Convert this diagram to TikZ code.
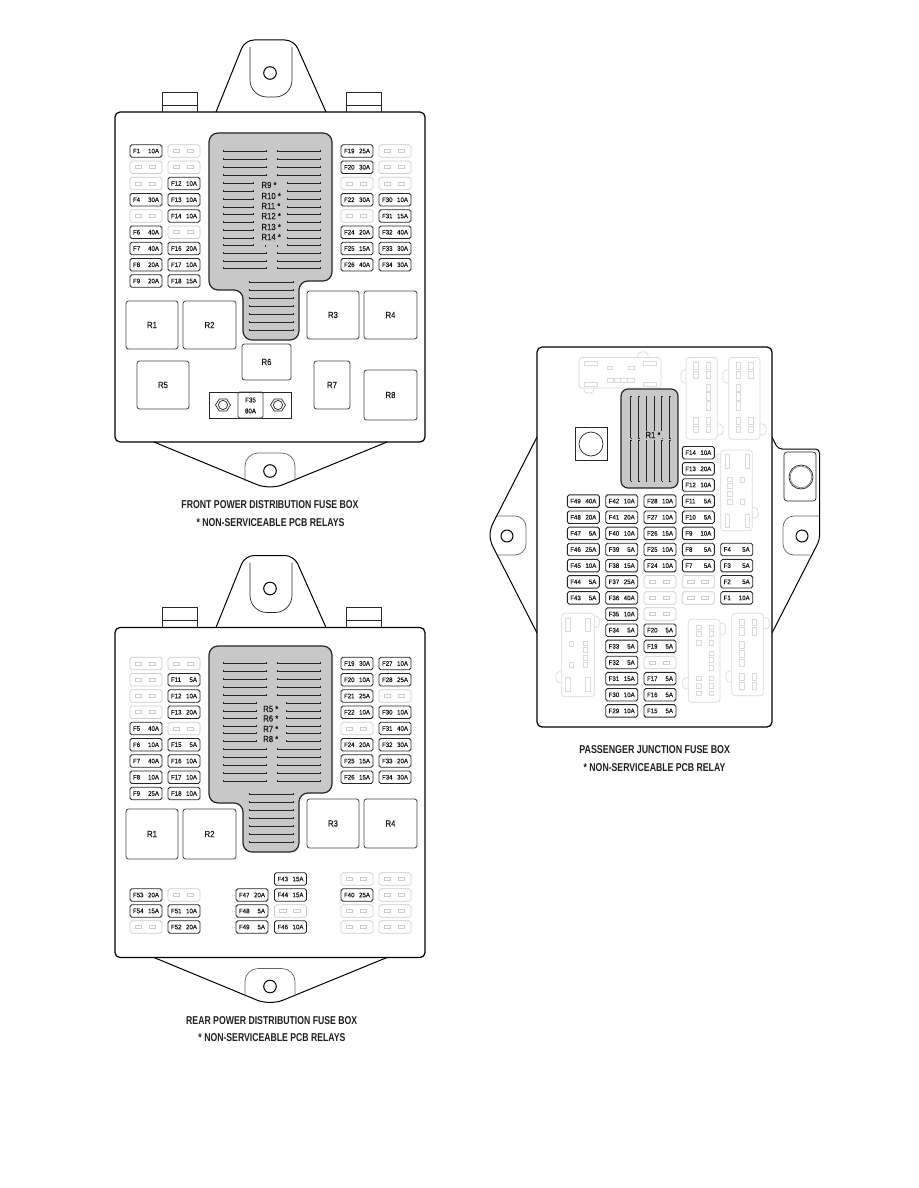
\documentclass[tikz,border=0pt]{standalone}
\usepackage{fontspec}
\usepackage{graphicx}
\setmainfont{Liberation Sans}
\newfontfamily\fusefont[FakeStretch=0.94,FakeBold=0.35]{Liberation Sans}
\newfontfamily\relfont[FakeStretch=0.88,FakeBold=0.45]{Liberation Sans}
\definecolor{boxgray}{HTML}{C8C8C8}
\definecolor{ghost}{HTML}{DADADA}
\definecolor{blankline}{HTML}{CCCCCC}
\definecolor{inkline}{HTML}{262626}
\tikzset{
  outerline/.style={draw=black,line width=1.25pt},
  thinline/.style={draw=inkline,line width=.7pt},
  fusebox/.style={draw=inkline,line width=.9pt,rounded corners=1.8pt,minimum width=32pt,minimum height=12.5pt,inner sep=0pt,font=\fusefont\fontsize{6.5}{6.5}\selectfont,text=black!90},
  blankbox/.style={draw=blankline,line width=.7pt,rounded corners=1.8pt,minimum width=32pt,minimum height=12.5pt,inner sep=0pt},
  slotbox/.style={draw=blankline,line width=.55pt},
  relaybox/.style={draw=inkline!85,line width=.85pt,rounded corners=2.5pt},
  relaytext/.style={font=\relfont\fontsize{8.8}{8.8}\selectfont,text=black!90,inner sep=0pt},
  graybody/.style={draw=inkline,fill=boxgray,line width=1.2pt,rounded corners=9pt},
  gridline/.style={draw=black!85,line width=.55pt},
  ghostline/.style={draw=ghost,line width=.7pt},
  capt/.style={inner sep=0pt,text=black!88},
}
\newcommand{\hgrid}[3]{\draw[gridline] (#1,#3) -- (#2,#3) (#1,#3-.8) -- (#1,#3+.8) (#2,#3-.8) -- (#2,#3+.8);}
\newcommand{\vgrid}[3]{\draw[gridline] (#1,#2) -- (#1,#3) (#1,#2) -- (#1+1.3,#2) (#1,#3) -- (#1+1.3,#3);}
\newcommand{\fcol}[5]{%
  \foreach \a/\b [count=\i from 0] in {#5}{%
    \pgfmathsetmacro\yy{#3+\i*#4}%
    \edef\tmpa{\a}\def\dashm{-}%
    \ifx\tmpa\dashm
      \node[blankbox] (#1r\i) at (#2+16,\yy) {};
      \draw[slotbox] (#2+16-11,\yy-1.5) rectangle (#2+16-4.5,\yy+1.5);
      \draw[slotbox] (#2+16+3,\yy-1.5) rectangle (#2+16+9.5,\yy+1.5);
    \else
      \node[fusebox] (#1r\i) at (#2+16,\yy) {\makebox[26pt]{\a\hfill\b}};
    \fi
  }%
}
\newcommand{\relay}[6]{%
  \draw[relaybox] (#2,#3) rectangle (#4,#5);
  \node[relaytext] (#1) at ({(#2+#4)/2},{(#3+#5)/2}) {#6};
}
\newcommand{\shelltop}{%
  \draw[outerline,fill=white,rounded corners=5pt] (115,112) rectangle (425,442);
  \draw[outerline,line width=1pt,rounded corners=9pt] (216,112) -- (245,40) -- (294,40) -- (326,112);
  \draw[thinline,rounded corners=17pt] (250,47) -- (250,97) -- (292,97) -- (292,47);
  \draw[black,line width=1pt] (270,73) circle (6.3);
  \draw[thinline,line width=.9pt] (162,112) -- (162,92) -- (197,92) -- (197,112) (162,105) -- (197,105);
  \draw[thinline,line width=.9pt] (346,112) -- (346,92) -- (381,92) -- (381,112) (346,105) -- (381,105);
  \draw[outerline,line width=1pt,rounded corners=14pt] (154,442) -- (270,490) -- (387,442);
  \draw[thinline,draw=black!60,rounded corners=13pt] (245,481) -- (245,453) -- (295,453) -- (295,481);
  \draw[black,line width=1pt] (270,471) circle (6.3);
}
\newcommand{\graybody}[4]{%
  \draw[graybody] (209,#1) -- (332,#1) -- (332,#3) -- (299,#3) -- (299,#4) -- (243,#4) -- (243,#2) -- (209,#2) -- cycle;
}
\newcommand{\ghostframe}[4]{\draw[ghostline,rounded corners=3pt] (#1,#2) rectangle (#3,#4);}
\newcommand{\ghosttab}[4]{\draw[ghostline,rounded corners=3.5pt] (#1,#2) -- (#3,#2) -- (#3,#4) -- (#1,#4);}
\newcommand{\ghostslot}[4]{\draw[ghostline,line width=.55pt] (#1,#2) rectangle (#3,#4);}
\newcommand{\capline}[5]{\node[capt] (#1) at (#2,#3) {\resizebox{#4pt}{8.2pt}{\bfseries\rule{0pt}{.72em}#5}};}
\begin{document}
\begin{tikzpicture}[x=1pt,y=-1pt]
\useasboundingbox (0,0) rectangle (918,1188);
\fill[white] (0,0) rectangle (918,1188);

%% ---------- FRONT ----------
\shelltop
\graybody{133}{290}{281}{340}
\foreach \y in {151,159,167,175,261,253,268}{\hgrid{223}{266}{\y}\hgrid{277}{320}{\y}}
\foreach \y in {183,191,199,207,214,222,230,238,245}{\hgrid{223}{253}{\y}\hgrid{287}{320}{\y}}
\draw[gridline] (265.5,245) -- (265.5,246.5) (277.5,245) -- (277.5,246.5);
\foreach \y in {282,290,298,306,314,322,330}{\hgrid{249}{293}{\y}}
\foreach \t/\y in {R9/185,R10/196,R11/206,R12/216,R13/227,R14/237}{
  \node[relaytext,anchor=west] (front\t) at (261.3,\y) {\t\ *};
}
\fcol{fa}{130}{151}{16.25}{F1/10A,-/-,-/-,F4/30A,-/-,F6/40A,F7/40A,F8/20A,F9/20A}
\fcol{fb}{168}{151}{16.25}{-/-,-/-,F12/10A,F13/10A,F14/10A,-/-,F16/20A,F17/10A,F18/15A}
\fcol{fc}{341}{151}{16.25}{F19/25A,F20/30A,-/-,F22/30A,-/-,F24/20A,F25/15A,F26/40A}
\fcol{fd}{379}{151}{16.25}{-/-,-/-,-/-,F30/10A,F31/15A,F32/40A,F33/30A,F34/30A}
\relay{fR1}{126}{301}{178}{349}{R1}
\relay{fR2}{183}{301}{236}{349}{R2}
\relay{fR3}{307}{291}{359}{339}{R3}
\relay{fR4}{364}{291}{417}{339}{R4}
\relay{fR5}{137}{361}{189}{409}{R5}
\relay{fR6}{242}{344}{291}{380}{R6}
\relay{fR7}{314}{361}{350}{409}{R7}
\relay{fR8}{364}{370}{417}{420}{R8}
\draw[thinline,line width=.8pt] (209,392) rectangle (291,418);
\draw[relaybox,rounded corners=1.5pt] (238,392) rectangle (263,418);
\node[relaytext,font=\relfont\fontsize{7}{7}\selectfont] (fF35a) at (250.5,400) {F35};
\node[relaytext,font=\relfont\fontsize{7}{7}\selectfont] (fF35b) at (250.5,411) {80A};
\foreach \cx in {223,278}{
  \draw[thinline] (\cx-7.5,405) -- (\cx-3.7,399) -- (\cx+3.7,399) -- (\cx+7.5,405) -- (\cx+3.7,411) -- (\cx-3.7,411) -- cycle;
  \draw[thinline] (\cx,405) circle (4.6);
}
\capline{fcap1}{270}{504}{177}{FRONT POWER DISTRIBUTION FUSE BOX}
\capline{fcap2}{270.5}{522}{148}{* NON-SERVICEABLE PCB RELAYS}

%% ---------- REAR ----------
\begin{scope}[shift={(0,515.5)}]
\shelltop
\end{scope}
\graybody{646}{803}{793}{852}
\foreach \y in {663,671,679,687,695,749,757,765,773,781}{\hgrid{223}{266}{\y}\hgrid{277}{320}{\y}}
\foreach \y in {703,711,718,726,733,741}{\hgrid{223}{256}{\y}\hgrid{286}{320}{\y}}
\foreach \y in {794,802,810,818,826,834,842}{\hgrid{249}{293}{\y}}
\foreach \t/\y in {R5/709,R6/718.5,R7/729,R8/739}{
  \node[relaytext,anchor=west] (rear\t) at (263,\y) {\t\ *};
}
\fcol{ra}{130}{663.5}{16.25}{-/-,-/-,-/-,-/-,F5/40A,F6/10A,F7/40A,F8/10A,F9/25A}
\fcol{rb}{168}{663.5}{16.25}{-/-,F11/5A,F12/10A,F13/20A,-/-,F15/5A,F16/10A,F17/10A,F18/10A}
\fcol{rc}{341}{663.5}{16.25}{F19/30A,F20/10A,F21/25A,F22/10A,-/-,F24/20A,F25/15A,F26/15A}
\fcol{rd}{379}{663.5}{16.25}{F27/10A,F28/25A,-/-,F30/10A,F31/40A,F32/30A,F33/20A,F34/30A}
\relay{rR1}{126}{809}{178}{859}{R1}
\relay{rR2}{183}{809}{236}{859}{R2}
\relay{rR3}{307}{799}{359}{848}{R3}
\relay{rR4}{364}{799}{417}{848}{R4}
\fcol{re}{130}{895}{16}{F53/20A,F54/15A,-/-}
\fcol{rf}{168}{895}{16}{-/-,F51/10A,F52/20A}
\fcol{rg}{236}{895}{16}{F47/20A,F48/5A,F49/5A}
\fcol{rh}{274.5}{879}{16}{F43/15A,F44/15A,-/-,F46/10A}
\fcol{ri}{341}{879}{16}{-/-,F40/25A,-/-,-/-}
\fcol{rj}{379}{879}{16}{-/-,-/-,-/-,-/-}
\capline{rcap1}{271.7}{1020}{171}{REAR POWER DISTRIBUTION FUSE BOX}
\capline{rcap2}{272}{1037}{147}{* NON-SERVICEABLE PCB RELAYS}

%% ---------- PASSENGER ----------
\draw[outerline,line width=1pt,rounded corners=6pt] (537,437) -- (490,529) -- (490,541) -- (537,633);
\draw[outerline,line width=1pt,rounded corners=4pt] (772,437) -- (778,449) -- (819.5,449) -- (819.5,540) -- (772,633);
\draw[outerline,fill=white,rounded corners=5pt] (537,347) rectangle (772,727);
% wing inner details
\draw[thinline,draw=black!60,rounded corners=11pt] (497,516) -- (526,516) -- (526,555) -- (498,555);
\draw[black,line width=1pt] (507,536) circle (6);
\draw[thinline,draw=black!60,rounded corners=11pt] (819,516) -- (783,516) -- (783,555) -- (810,555);
\draw[black,line width=1pt] (802,536) circle (6);
\draw[thinline,rounded corners=3pt] (784,452) rectangle (816,501);
\draw[thinline] (801,477) circle (12);
\draw[thinline,draw=black!50] (801,477) circle (10.8);
% ghost connector top
\ghostframe{579}{357.5}{661}{388}
\draw[ghostline,rounded corners=3.5pt] (638,357.5) -- (638,352) -- (648,352) -- (648,357.5);
\draw[ghostline,rounded corners=3.5pt] (584,388) -- (584,393) -- (594,393) -- (594,388);
\foreach \a/\b in {584/361,643/361,584/382,643/382}{\ghostslot{\a}{\b}{\a+13.5}{\b+4}}
\ghostslot{607}{366}{612}{369.5}
\ghostslot{628}{366}{634}{369.5}
\foreach \a in {607,613.8,620.6,627.4}{\ghostslot{\a}{378}{\a+6.5}{382}}
% ghost connector 2
\ghostframe{686}{357.5}{717.3}{439.3}
\ghosttab{686}{370}{681}{383}
\ghosttab{717.3}{424}{723}{435}
\foreach \a in {693.7,706}{\foreach \b/\c in {362.7/369,371/378,417.7/424,426/432.3}{\ghostslot{\a}{\b}{\a+4.5}{\c}}}
\foreach \b/\c in {384.3/391.7,392.7/400,401.7/410.7}{\ghostslot{706}{\b}{710.5}{\c}}
% ghost connector 3
\ghostframe{728.7}{357.5}{760}{439.3}
\ghosttab{728.7}{370}{723}{383}
\ghosttab{760}{424}{766}{435}
\foreach \a in {736,748.3}{\foreach \b/\c in {362.7/369,371/378,417.7/424,426/432.3}{\ghostslot{\a}{\b}{\a+4.5}{\c}}}
\foreach \b/\c in {384.3/391.7,392.7/400,401.7/410.7}{\ghostslot{736}{\b}{740.5}{\c}}
% ghost connector 4
\ghostframe{720.7}{450}{752.3}{530.7}
\ghosttab{720.7}{454}{715.7}{463}
\ghosttab{752.3}{507.7}{758}{518}
\foreach \a in {725,745.3}{\ghostslot{\a}{454}{\a+4}{468}\ghostslot{\a}{514}{\a+4}{527.3}}
\foreach \b/\c in {477.3/481.7,483.3/487.8,491.7/496,499/504}{\ghostslot{727.3}{\b}{732}{\c}}
\foreach \b/\c in {477.3/482.3,499/504}{\ghostslot{740}{\b}{744.3}{\c}}
% ghost connector 5
\ghostframe{561.7}{613.3}{594.3}{696.7}
\ghosttab{594.3}{616}{599.3}{627.7}
\ghosttab{561.7}{671.7}{556}{682.7}
\foreach \a in {565.7,585.7}{\ghostslot{\a}{618.3}{\a+4.3}{631.7}\ghostslot{\a}{677.7}{\a+4.3}{691}}
\foreach \b/\c in {641/646,662.7/667.3}{\ghostslot{569.3}{\b}{573.3}{\c}}
\foreach \b/\c in {641/645.7,647.7/652.7,655/660,662.3/667.7}{\ghostslot{583.3}{\b}{587.3}{\c}}
% ghost connector 6
\ghostframe{688.3}{619.3}{720}{702.3}
\ghosttab{720}{623.3}{725.7}{635}
\ghosttab{688.3}{677.7}{682.7}{689}
\foreach \a in {696.7,709.3}{\foreach \b/\c in {625/629.3,631.7/636,640/645,676/680.7,683.3/688.3,691/695.7}{\ghostslot{\a}{\b}{\a+4.3}{\c}}}
\foreach \b/\c in {651/655.7,657.7/662.3,665/670}{\ghostslot{709.3}{\b}{713.6}{\c}}
% ghost connector 7
\ghostframe{731.7}{613.3}{763.3}{695.7}
\ghosttab{763.3}{617.7}{769.3}{629}
\ghosttab{731.7}{671}{726}{682.3}
\foreach \a in {739.3,752}{\foreach \b/\c in {619/625.7,627.7/635,673.3/680.7,682.3/689}{\ghostslot{\a}{\b}{\a+4.5}{\c}}}
\foreach \b/\c in {641/648.3,650/657.3,659.3/666.7}{\ghostslot{739.3}{\b}{743.8}{\c}}
% relay block R1
\draw[graybody,rounded corners=7pt] (621,389) rectangle (678,488);
\foreach \x in {630.7,638.3,646,654,661.7,669.3}{\vgrid{\x}{396}{438}\vgrid{\x}{440}{481}}
\node[relaytext,fill=boxgray,inner sep=1pt] (pR1) at (653,435) {R1 *};
\draw[thinline,line width=.9pt] (575,427) rectangle (607,460);
\draw[thinline] (591,444) circle (12);
\fcol{pa}{567.3}{501.1}{16.14}{F49/40A,F48/20A,F47/5A,F46/25A,F45/10A,F44/5A,F43/5A}
\fcol{pb}{605.7}{501.1}{16.14}{F42/10A,F41/20A,F40/10A,F39/5A,F38/15A,F37/25A,F36/40A,F35/10A,F34/5A,F33/5A,F32/5A,F31/15A,F30/10A,F29/10A}
\fcol{pc}{644}{501.1}{16.14}{F28/10A,F27/10A,F26/15A,F25/10A,F24/10A,-/-,-/-,-/-,F20/5A,F19/5A,-/-,F17/5A,F16/5A,F15/5A}
\fcol{pd}{682.3}{452.7}{16.14}{F14/10A,F13/20A,F12/10A,F11/5A,F10/5A,F9/10A,F8/5A,F7/5A,-/-,-/-}
\fcol{pe}{720.7}{549.5}{16.14}{F4/5A,F3/5A,F2/5A,F1/10A}
\capline{pcap1}{654.7}{749}{150.7}{PASSENGER JUNCTION FUSE BOX}
\capline{pcap2}{654.5}{767}{141.7}{* NON-SERVICEABLE PCB RELAY}
\end{tikzpicture}
\end{document}
